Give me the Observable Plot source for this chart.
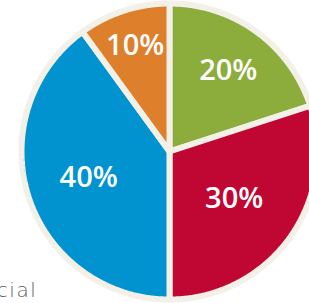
<!DOCTYPE html>
<html>
<head>
<meta charset="utf-8">
<script src="https://cdn.jsdelivr.net/npm/d3@7"></script>
<script src="https://cdn.jsdelivr.net/npm/@observablehq/plot@0.6"></script>
<style>
  html, body { margin: 0; padding: 0; background: #ffffff; }
  #chart { width: 309px; height: 303px; overflow: hidden; }
</style>
</head>
<body>
<div id="chart"></div>
<script>
// ---- data ----
const categories = ["A", "B", "C", "D"];
const shares = [20, 30, 40, 10];
const labels = ["20%", "30%", "40%", "10%"];
const colors = ["#8cad3c", "#c00633", "#0093cf", "#de7f2c"];
const legendText = "Financial";

// ---- layout (not data) ----
const W = 309, H = 303;
const R = 148;                        // slice path radius
const labelRadius = [100, 80, 85, 111]; // label distance from centre, per slice
const cream = "#f3f0e7";

const pie = d3.pie().sort(null).value(d => d.share)(
  categories.map((c, i) => ({ cat: c, share: shares[i], label: labels[i], color: colors[i], i }))
);

const pts = [];
pie.forEach(s => {
  const a0 = s.startAngle, a1 = s.endAngle;
  pts.push({ cat: s.data.cat, color: s.data.color, x: 0, y: 0 });
  const n = Math.max(2, Math.ceil((a1 - a0) / (Math.PI / 360)));
  for (let k = 0; k <= n; k++) {
    const a = a0 + (a1 - a0) * k / n;
    pts.push({ cat: s.data.cat, color: s.data.color, x: R * Math.sin(a), y: R * Math.cos(a) });
  }
  pts.push({ cat: s.data.cat, color: s.data.color, x: 0, y: 0 });
});

const labelPts = pie.map(s => {
  const a = (s.startAngle + s.endAngle) / 2;
  const r = labelRadius[s.data.i];
  return { label: s.data.label, x: r * Math.sin(a), y: r * Math.cos(a) };
});

const chart = Plot.plot({
  width: W,
  height: H,
  margin: 0,
  x: { domain: [-169, 140], range: [0, W], axis: null },
  y: { domain: [-152, 151], range: [H, 0], axis: null },
  color: { type: "identity" },
  style: { background: "#ffffff", overflow: "hidden" },
  marks: [
    Plot.line(pts, {
      x: "x", y: "y", z: "cat",
      fill: "color",
      stroke: cream, strokeWidth: 6,
      strokeLinejoin: "miter", curve: "linear"
    }),
    Plot.text(labelPts, {
      x: "x", y: "y", text: "label",
      fill: "#ffffff",
      fontSize: 29, fontWeight: 600,
      fontFamily: "Open Sans",
      textAnchor: "middle", lineAnchor: "middle"
    }),
    Plot.text([legendText], {
      frameAnchor: "bottom-left",
      text: d => d,
      textAnchor: "end",
      lineAnchor: "bottom",
      dx: 37, dy: -7,
      fill: "#5e5e5e",
      fontSize: 20, fontWeight: 200,
      fontFamily: "DejaVu Sans"
    })
  ]
});
d3.select(chart).selectAll("text")
  .filter(function () { return this.textContent === legendText; })
  .attr("letter-spacing", "1.6px");
document.getElementById("chart").appendChild(chart);
</script>
</body>
</html>
